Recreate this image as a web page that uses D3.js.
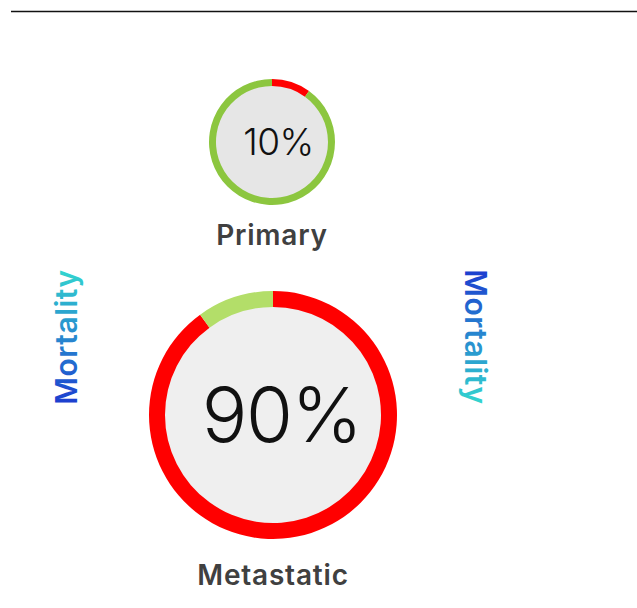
<!DOCTYPE html>
<html>
<head>
<meta charset="utf-8">
<script src="https://cdn.jsdelivr.net/npm/d3@7"></script>
<style>
  body { margin: 0; background: #fff; }
  svg { display: block; }
</style>
</head>
<body>
<svg id="chart" width="637" height="608"></svg>
<script>
// Mortality share by stage
const stages = ["Primary", "Metastatic"];
const mortality = [10, 90];          // percent
const sideLabel = "Mortality";

const svg = d3.select("#chart");
const W = 637;

// rule across the top
svg.append("line")
  .attr("x1", 11).attr("x2", W).attr("y1", 11.5).attr("y2", 11.5)
  .attr("stroke", "#111").attr("stroke-width", 1.5);

// gradients for the side labels (blue at the start of the word, cyan at the end)
const defs = svg.append("defs");
function grad(id) {
  const g = defs.append("linearGradient").attr("id", id)
    .attr("gradientUnits", "objectBoundingBox")
    .attr("x1", 0).attr("y1", 0).attr("x2", 1).attr("y2", 0);
  g.append("stop").attr("offset", "0%").attr("stop-color", "#1c3ccf");
  g.append("stop").attr("offset", "100%").attr("stop-color", "#33d6cf");
}
grad("gLeft");
grad("gRight");

// donut layout for each stage
const rings = [
  { cx: 272, cy: 142, r: 63, w: 7, fill: "#e6e6e6", font: 37, ls: -0.6, dx: 6.5, dy: 13,
    hit: "#ff0000", rest: "#8cc63f", label: { y: 245 } },
  { cx: 273, cy: 415, r: 124, w: 16, fill: "#efefef", font: 76, ls: -1.5, dx: 8.5, dy: 27,
    hit: "#ff0000", rest: "#b3de69", label: { y: 585 } }
];

const angle = d3.scaleLinear().domain([0, 100]).range([0, 2 * Math.PI]);

rings.forEach((cfg, i) => {
  const v = mortality[i];
  const g = svg.append("g").attr("transform", `translate(${cfg.cx},${cfg.cy})`);

  g.append("circle").attr("r", cfg.r - cfg.w / 2).attr("fill", cfg.fill);

  const arc = d3.arc().innerRadius(cfg.r - cfg.w).outerRadius(cfg.r);
  const segs = [
    { s: 0, e: angle(v), c: cfg.hit },
    { s: angle(v), e: angle(100), c: cfg.rest }
  ];
  g.selectAll("path.seg").data(segs).enter().append("path")
    .attr("class", "seg")
    .attr("d", d => arc({ startAngle: d.s, endAngle: d.e }))
    .attr("fill", d => d.c);

  g.append("text")
    .attr("x", cfg.dx).attr("y", cfg.dy)
    .attr("text-anchor", "middle")
    .attr("font-family", "Inter, sans-serif")
    .attr("font-weight", 300)
    .attr("font-size", cfg.font)
    .attr("letter-spacing", cfg.ls)
    .attr("fill", "#111")
    .text(v + "%");

  svg.append("text")
    .attr("x", cfg.cx).attr("y", cfg.label.y)
    .attr("text-anchor", "middle")
    .attr("font-family", "Inter, Roboto, sans-serif")
    .attr("font-weight", 600)
    .attr("font-size", 28)
    .attr("letter-spacing", 0.8)
    .attr("fill", "#404040")
    .text(stages[i]);
});

// rotated side labels
const sides = [
  { x: 77, rot: -90, fill: "url(#gLeft)" },
  { x: 465, rot: 90, fill: "url(#gRight)" }
];
svg.selectAll("text.side").data(sides).enter().append("text")
  .attr("class", "side")
  .attr("transform", d => `translate(${d.x},337) rotate(${d.rot})`)
  .attr("text-anchor", "middle")
  .attr("font-family", "Inter, Roboto, sans-serif")
  .attr("font-weight", 600)
  .attr("font-size", 30)
  .attr("letter-spacing", 0.5)
  .attr("fill", d => d.fill)
  .text(sideLabel);
</script>
</body>
</html>
